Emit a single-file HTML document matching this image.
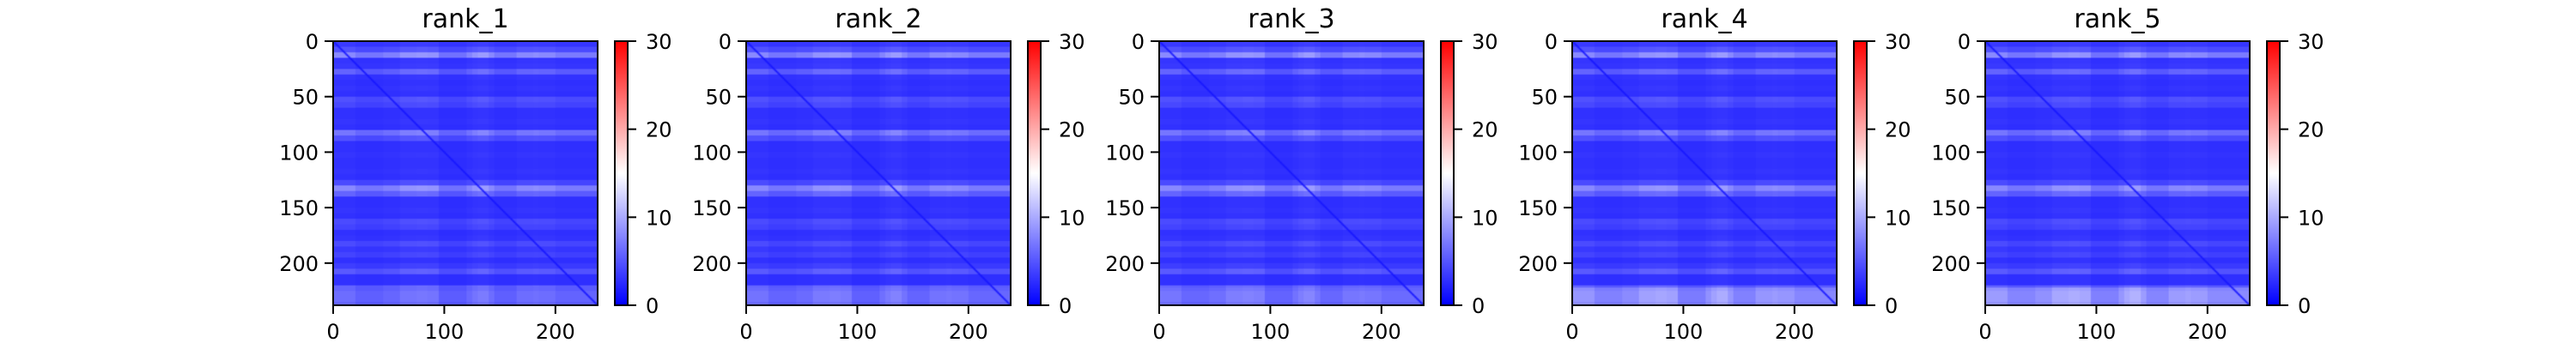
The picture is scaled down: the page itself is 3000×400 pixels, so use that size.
<!DOCTYPE html>
<html><head><meta charset="utf-8">
<style>
html,body{margin:0;padding:0;background:#fff;}
#root{position:relative;width:3000px;height:400px;overflow:hidden;background:#fff;font-family:"DejaVu Sans","Liberation Sans",sans-serif;}
canvas{position:absolute;}
svg{position:absolute;left:0;top:0;}
</style></head>
<body>
<div id="root">
<svg id="ov" width="3000" height="400"></svg>
</div>
<script>
// ---- data ----
const panelTitles = ["rank_1","rank_2","rank_3","rank_4","rank_5"];
const nCells = 238;
const blockSize = 5;
// row intensity per 5-row block (value units)
const rowVals = [3.2,4.5,7.5,3,3.2,5.5,3,2.8,3,2.8,4.5,4,2.8,2.8,3,2.8,6.5,4.5,2.8,2.8,3,2.8,2.8,3,2.8,4.2,7.5,5.5,2.8,2.8,3,2.8,4.2,3.8,2.8,3,4.2,3.2,3.8,2.8,3.5,5,2.8,2.8,5.5,6,6,5.5];
// column multiplier per 5-col block
const colVals = [1.1,1.1,1.1,1.1,0.9,0.9,0.9,0.9,0.9,1.0,1.0,1.0,1.2,1.2,1.2,1.25,1.25,1.2,1.2,0.85,0.85,0.85,0.85,0.85,1.05,1.2,1.3,1.3,1.1,0.9,0.9,0.9,0.9,1.1,1.1,1.1,1.15,1.1,1.1,1.1,0.95,0.95,0.95,0.95,0.95,0.95,0.95,0.95];
// extra brightness on bottom band per rank
const bottomBoost = [0,0.3,0.5,2.2,2.5];
const baseVal = 1.9;
const diagVal = 1.3;
const xTicks = [0,100,200];
const yTicks = [0,50,100,150,200];
const cbTicks = [0,10,20,30];
const vmin = 0, vmax = 30;

// ---- layout ----
const panelLeft0 = 388, panelStep = 481, plotTop = 48, plotSize = 308;
const cbOffset = 328, cbWidth = 15;
const NS = "http://www.w3.org/2000/svg";
const svg = document.getElementById('ov');
const root = document.getElementById('root');

function bwr(v){
  let t = Math.max(0, Math.min(1, (v - vmin)/(vmax - vmin)));
  let r,g,b;
  if (t < 0.5){ r = g = Math.round(2*t*255); b = 255; }
  else { r = 255; g = b = Math.round((2-2*t)*255); }
  return [r,g,b];
}
function el(tag, attrs){ const e = document.createElementNS(NS, tag); for (const k in attrs) e.setAttribute(k, attrs[k]); svg.appendChild(e); return e; }

panelTitles.forEach((title, p) => {
  const left = panelLeft0 + p*panelStep;
  const xs = v => left + v/nCells*plotSize;
  const ys = v => plotTop + v/nCells*plotSize;

  const cv = document.createElement('canvas');
  cv.width = nCells; cv.height = nCells;
  cv.style.left = left+'px'; cv.style.top = plotTop+'px';
  cv.style.width = plotSize+'px'; cv.style.height = plotSize+'px';
  
  
  root.insertBefore(cv, svg);
  const ctx = cv.getContext('2d');
  const img = ctx.createImageData(nCells, nCells);
  for (let i=0;i<nCells;i++){
    let rv = rowVals[Math.floor(i/blockSize)];
    if (i >= 222) rv += bottomBoost[p];
    for (let j=0;j<nCells;j++){
      const cm = colVals[Math.floor(j/blockSize)];
      let v = baseVal + (rv - baseVal)*cm;
      const d = Math.abs(i-j);
      if (d === 0) v = diagVal;
      else if (d === 1) v = (v + diagVal)/2;
      const c = bwr(v);
      const o = (i*nCells + j)*4;
      img.data[o]=c[0]; img.data[o+1]=c[1]; img.data[o+2]=c[2]; img.data[o+3]=255;
    }
  }
  ctx.putImageData(img,0,0);

  const fr = el('rect',{x:left,y:plotTop,width:plotSize,height:plotSize,fill:'none',stroke:'#000','stroke-width':2});
  
  

  const t = el('text',{x:left+plotSize/2,y:32,'text-anchor':'middle','font-size':30,fill:'#000'});
  t.textContent = title;
  
  

  xTicks.forEach(v => {
    const x = xs(v);
    const tk = el('line',{x1:x,x2:x,y1:plotTop+plotSize,y2:plotTop+plotSize+10,stroke:'#000','stroke-width':2});
    
    
    const lb = el('text',{x:x,y:395,'text-anchor':'middle','font-size':24,fill:'#000'});
    lb.textContent = v;
    
    
  });
  yTicks.forEach(v => {
    const y = ys(v);
    const tk = el('line',{x1:left-10,x2:left,y1:y,y2:y,stroke:'#000','stroke-width':2});
    
    
    const lb = el('text',{x:left-17,y:y+9,'text-anchor':'end','font-size':24,fill:'#000'});
    lb.textContent = v;
    
    
  });

  const cbx = left + cbOffset;
  const gid = 'g'+p;
  const defs = el('defs',{});
  const lg = document.createElementNS(NS,'linearGradient');
  lg.setAttribute('id',gid); lg.setAttribute('x1','0'); lg.setAttribute('y1','1'); lg.setAttribute('x2','0'); lg.setAttribute('y2','0');
  [[0,'#0000ff'],[0.5,'#ffffff'],[1,'#ff0000']].forEach(s=>{
    const st = document.createElementNS(NS,'stop'); st.setAttribute('offset',s[0]); st.setAttribute('stop-color',s[1]); lg.appendChild(st);
  });
  defs.appendChild(lg);
  const cb = el('rect',{x:cbx,y:plotTop,width:cbWidth,height:plotSize,fill:'url(#'+gid+')',stroke:'#000','stroke-width':2});
  
  
  cbTicks.forEach(v => {
    const y = plotTop + plotSize - (v - vmin)/(vmax - vmin)*plotSize;
    const tk = el('line',{x1:cbx+cbWidth,x2:cbx+cbWidth+10,y1:y,y2:y,stroke:'#000','stroke-width':2});
    
    
    const lb = el('text',{x:cbx+cbWidth+21,y:y+9,'text-anchor':'start','font-size':24,fill:'#000'});
    lb.textContent = v;
    
    
  });
});
</script>
</body></html>
